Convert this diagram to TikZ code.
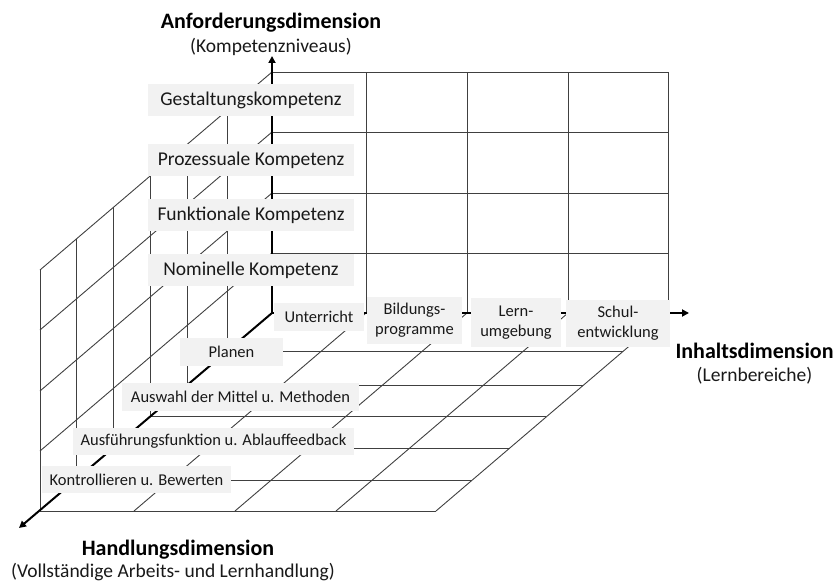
\documentclass[tikz,border=0pt]{standalone}
\usepackage{fontspec}
\setmainfont{Carlito}
\usetikzlibrary{arrows.meta}
\begin{document}
\begin{tikzpicture}[x=1pt,y=-1pt,
  grid/.style={draw=black!75, line width=0.9pt},
  axisline/.style={draw=black, line width=2pt, line cap=butt,
     -{Triangle[length=7pt,width=7pt]}},
  lab/.style={fill=gray!10, inner sep=0pt, align=center, text=black!90},
  lvl/.style={lab, minimum width=206pt, minimum height=32pt,
     font=\fontsize{19.5}{22}\selectfont},
  small/.style={lab, font=\fontsize{16.5}{20}\selectfont},
  ttl/.style={inner sep=0pt, text=black, font=\bfseries\fontsize{22}{26}\selectfont},
  sub/.style={inner sep=0pt, text=black!90, font=\fontsize{19.5}{23}\selectfont}]
\useasboundingbox (0,0) rectangle (835,583);

% ---------- back wall ----------
\foreach \yy in {72,132,193,253} \draw[grid] (272,\yy) -- (668,\yy);
\foreach \xx in {366,467,568,668} \draw[grid] (\xx,313) -- (\xx,72);
% ---------- left wall diagonals ----------
\foreach \yy in {72,132,193,253} \draw[grid] (272,\yy) -- (40,\yy+198);
% ---------- floor diagonals ----------
\foreach \xx in {366,467,568,668} \draw[grid] (\xx,313) -- (\xx-232,511);
% ---------- depth divisions: floor lines and left wall verticals ----------
\foreach \f in {0.193,0.366,0.524,0.682,0.845,1} {
  \draw[grid] ({272-232*\f},{313+198*\f}) -- ({668-232*\f},{313+198*\f});
  \draw[grid] ({272-232*\f},{313+198*\f}) -- ({272-232*\f},{72+198*\f});
}

% ---------- axes ----------
\coordinate (O) at (272,313);
\coordinate (ztip) at (272,56);
\coordinate (xtip) at (689,313);
\coordinate (dtip) at (19,528);
\draw[axisline] (O) -- (ztip);
\draw[axisline] (O) -- (xtip);
\draw[axisline] (O) -- (dtip);

% ---------- competence levels ----------
\node[lvl] (gk) at (251,100) {Gestaltungskompetenz};
\node[lvl] (pk) at (251,160) {Prozessuale Kompetenz};
\node[lvl] (fk) at (251,215) {Funktionale Kompetenz};
\node[lvl] (nk) at (251,270) {Nominelle Kompetenz};

% ---------- content areas ----------
\node[small, minimum width=90pt, minimum height=28pt] (unt) at (319,317) {Unterricht};
\node[small, minimum width=95pt, minimum height=47pt] (bil) at (414.5,320.5) {Bildungs-\\programme};
\node[small, minimum width=90pt, minimum height=49pt] (lern) at (516,322.5) {Lern-\\umgebung};
\node[small, minimum width=104pt, minimum height=47pt] (schul) at (618,323.5) {Schul-\\entwicklung};

% ---------- action steps ----------
\node[small, minimum width=103pt, minimum height=28pt] (plan) at (231.5,352) {Planen};
\node[small, minimum width=237pt, minimum height=28pt] (ausw) at (240.5,397) {Auswahl der Mittel u. Methoden};
\node[small, minimum width=281pt, minimum height=27pt] (ausf) at (213.5,441.5) {Ausführungsfunktion u. Ablauffeedback};
\node[small, minimum width=189pt, minimum height=27pt] (kont) at (136.5,479.5) {Kontrollieren u. Bewerten};

% ---------- titles ----------
\node[ttl] (tA) at (271,23) {Anforderungsdimension};
\node[sub] (sA) at (271,46.5) {(Kompetenzniveaus)};
\node[ttl] (tH) at (178,550) {Handlungsdimension};
\node[sub] (sH) at (173,572.5) {(Vollständige Arbeits- und Lernhandlung)};
\node[ttl] (tI) at (754.5,351) {Inhaltsdimension};
\node[sub] (sI) at (754.5,376) {(Lernbereiche)};
\end{tikzpicture}
\end{document}
